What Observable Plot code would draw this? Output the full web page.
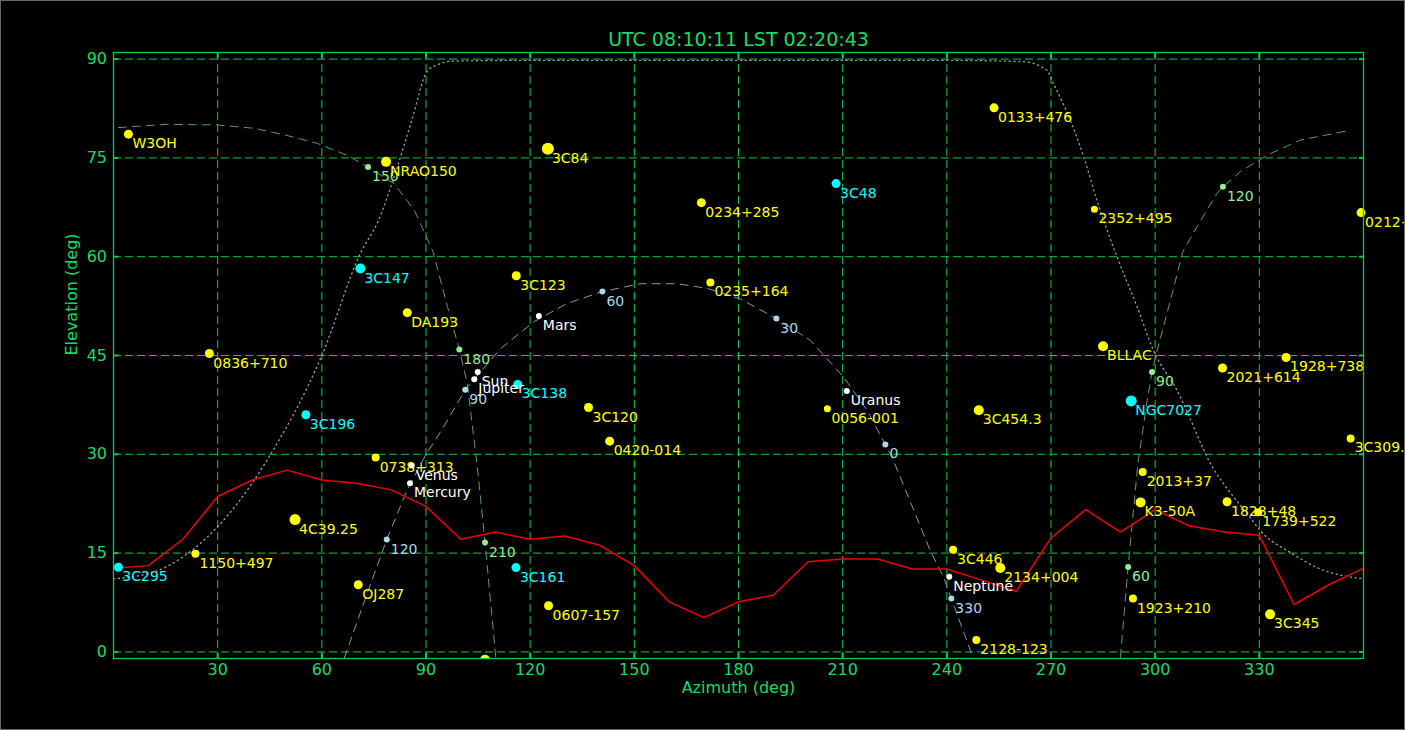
<!DOCTYPE html>
<html><head><meta charset="utf-8">
<script src="https://cdn.jsdelivr.net/npm/d3@7"></script>
<script src="https://cdn.jsdelivr.net/npm/@observablehq/plot@0.6"></script>
<style>html,body{margin:0;padding:0;background:#000;overflow:hidden}
#chart svg{display:block;outline:1px solid #666;outline-offset:-1px}</style>
</head><body><div id="chart"></div>
<script>
const titleText = "UTC 08:10:11 LST 02:20:43";
const xLabel = "Azimuth (deg)";
const yLabel = "Elevation (deg)";
const xTicks = [30, 60, 90, 120, 150, 180, 210, 240, 270, 300, 330];
const yTicks = [0, 15, 30, 45, 60, 75, 90];

// sources (yellow)
const srcNames = ["W3OH","NRAO150","3C84","0234+285","0133+476","2352+495","0212+735","0836+710","DA193","3C123","0235+164","3C120","0420-014","0056-001","3C454.3","BLLAC","2021+614","1928+738","3C309.1","0738+313","4C39.25","1150+497","OJ287","2013+37","K3-50A","1828+48","1739+522","3C446","2134+004","1923+210","3C345","2128-123","0607-157"];
const srcAz = [4.3,78.5,125.1,169.3,253.6,282.5,359.3,27.6,84.6,116.0,171.9,136.8,142.9,205.6,249.2,285.0,319.4,337.7,356.3,75.5,52.3,23.6,70.5,296.4,295.8,320.7,329.7,241.8,255.4,293.6,333.1,248.5,125.3];
const srcEl = [78.6,74.4,76.4,68.2,82.6,67.2,66.7,45.3,51.5,57.1,56.1,37.1,32.0,36.9,36.7,46.4,43.1,44.7,32.4,29.5,20.1,14.9,10.2,27.3,22.7,22.8,21.2,15.5,12.75,8.1,5.7,1.8,7.0];
const srcFlux = [3,4,6,3,3,1,3,3,3,3,2,3,3,1,4,4,3,3,2,2,5,2,3,2,4,3,2,2,4,2,4,2,3];

// calibrators (cyan)
const calNames = ["3C147","3C196","3C48","3C138","NGC7027","3C161","3C295"];
const calAz = [71.1,55.4,208.1,116.4,293.1,115.9,1.4];
const calEl = [58.2,36.0,71.1,40.6,38.1,12.8,12.85];
const calFlux = [4,3,3,3,5,3,3];

// source below horizon (no label)
const lowAz = [107.0];
const lowEl = [-1.2];
const lowFlux = [4];

// planets
const planetNames = ["Mercury","Venus","Sun","Jupiter","Mars","Uranus","Neptune"];
const planetAz = [85.4,85.9,104.9,103.9,122.5,211.2,240.7];
const planetEl = [25.6,28.3,42.5,41.4,51.0,39.6,11.4];

// horizon mask
const horizonAz = [0,10,20,30,40,50,60,70,80,90,100,110,120,130,140,150,160,170,180,190,200,210,220,230,240,250,260,270,280,290,300,310,320,330,340,350,360];
const horizonEl = [12.7,13.1,17.1,23.6,26.1,27.6,26.1,25.6,24.6,22.1,17.1,18.2,17.1,17.6,16.2,13.1,7.6,5.2,7.6,8.6,13.7,14.1,14.1,12.6,12.6,10.9,9.2,17.3,21.6,18.2,21.6,19.1,18.2,17.7,7.2,10.2,12.7];

// dotted zenith circle
const zenithAz = [0,12.5,23.0,29.8,42.3,44.2,60.0,71.1,76.3,81.1,85.9,90.3,93.1,98.0,120,180,240,262.1,268.8,270.7,275.5,279.4,283.2,289.0,294.8,299.5,306.3,316.8,321.6,327.4,330.3,338.9,347.5,360];
const zenithEl = [11.1,12.3,15.6,18.9,27.5,29.1,45.0,60.5,65.5,72.6,80.7,88.1,89.1,89.7,89.8,89.8,89.8,89.6,88.3,86.3,80.8,75.2,68.6,60.0,52.4,45.8,39.7,27.8,24.2,20.4,18.4,15.1,12.6,11.1];

// galactic plane
const galWestAz = [1.4,15.4,29.8,40.4,50.0,58.7,67.3,73.3,80.8,86.6,92.0,96.2,99.6,101.9,104.8,107.0,110.1];
const galWestEl = [79.6,80.1,80.0,79.5,78.4,77.2,75.4,73.6,71.1,67.1,60.8,52.4,45.9,40.7,28.0,16.6,-0.8];
const galEastAz = [290.0,292.2,295.0,297.7,299.1,300.6,304.4,308.0,312.0,317.8,319.5,324.5,332.2,341.8,356.2];
const galEastEl = [-0.8,12.9,28.5,38.2,42.5,45.8,53.4,60.8,64.5,69.6,70.6,72.9,75.4,77.7,79.2];
const galMarkLon = [60,90,120,150,180,210];
const galMarkAz = [292.2,299.1,319.5,73.3,99.6,107.0];
const galMarkEl = [12.9,42.5,70.6,73.6,45.9,16.6];

// ecliptic
const eclAz = [66.5,73.0,78.7,84.5,89.8,95.0,101.3,111.4,121.0,130.6,140.8,151.7,162.3,170.9,180.5,190.9,200.7,210.3,217.0,222.3,224.6,235.2,239.1,241.3,246.8,247.3];
const eclEl = [-0.9,8.8,17.05,24.5,29.8,34.1,39.8,46.0,50.1,52.9,54.7,55.9,55.9,55.2,53.6,50.6,47.3,41.7,36.7,31.5,29.1,15.4,11.3,8.1,0.2,-0.9];
const eclMarkLon = [120,90,60,30,0,330];
const eclMarkAz = [78.7,101.3,140.8,190.9,222.3,241.3];
const eclMarkEl = [17.05,39.8,54.7,50.6,31.5,8.1];

const pts = (az, el, extra = {}) => az.map((a, i) => {
  const o = {az: a, el: el[i]};
  for (const k in extra) o[k] = extra[k][i];
  return o;
});
const sources = pts(srcAz, srcEl, {name: srcNames, flux: srcFlux});
const cals = pts(calAz, calEl, {name: calNames, flux: calFlux});
const low = pts(lowAz, lowEl, {flux: lowFlux});
const planets = pts(planetAz, planetEl, {name: planetNames});
const horizon = pts(horizonAz, horizonEl);
const zenith = pts(zenithAz, zenithEl);
const galWest = pts(galWestAz, galWestEl);
const galEast = pts(galEastAz, galEastEl);
const galMarks = pts(galMarkAz, galMarkEl, {lon: galMarkLon});
const ecl = pts(eclAz, eclEl);
const eclMarks = pts(eclMarkAz, eclMarkEl, {lon: eclMarkLon});

const gridColor = "#00cc44";
const frameColor = "#00cc55";
const textGreen = "#11dd66";
const lbl = {x: "az", y: "el", dx: 4, dy: 14, lineAnchor: "bottom", textAnchor: "start", fontSize: 14};

const chart = Plot.plot({
  width: 1405, height: 730,
  marginLeft: 113, marginRight: 42, marginTop: 52, marginBottom: 72,
  style: {background: "#000", color: textGreen, fontFamily: "DejaVu Sans, sans-serif", fontSize: "16px"},
  x: {domain: [0, 360], label: null},
  y: {domain: [-1, 91], label: null},
  r: {type: "linear", domain: [0, 6], range: [3, 6]},
  marks: [
    Plot.gridX({ticks: xTicks, stroke: gridColor, strokeOpacity: 1, strokeDasharray: "8,4"}),
    Plot.gridY({ticks: yTicks, stroke: gridColor, strokeOpacity: 1, strokeDasharray: "8,4"}),
    Plot.line(zenith, {x: "az", y: "el", curve: "monotone-x", stroke: "#a0a0a0", strokeWidth: 1.3, strokeDasharray: "1.2,3.6", clip: "frame"}),
    Plot.line(galWest, {x: "az", y: "el", stroke: "#5a9f5a", strokeWidth: 1, strokeDasharray: "8,6", clip: "frame"}),
    Plot.line(galEast, {x: "az", y: "el", stroke: "#5a9f5a", strokeWidth: 1, strokeDasharray: "8,6", clip: "frame"}),
    Plot.line(ecl, {x: "az", y: "el", stroke: "#8596aa", strokeWidth: 1, strokeDasharray: "8,6", clip: "frame"}),
    Plot.line(horizon, {x: "az", y: "el", stroke: "#ee0000", strokeWidth: 1.5, clip: "frame"}),
    Plot.dot(galMarks, {x: "az", y: "el", r: 3, fill: "#90ee90"}),
    Plot.text(galMarks, {...lbl, text: "lon", fill: "#90ee90"}),
    Plot.dot(eclMarks, {x: "az", y: "el", r: 3, fill: "#add8e6"}),
    Plot.text(eclMarks, {...lbl, text: "lon", fill: "#add8e6"}),
    Plot.dot(low, {x: "az", y: "el", r: "flux", fill: "#ffff00", clip: "frame"}),
    Plot.text(sources, {...lbl, text: "name", fill: "#ffff00"}),
    Plot.dot(sources, {x: "az", y: "el", r: "flux", fill: "#ffff00"}),
    Plot.text(cals, {...lbl, text: "name", fill: "#00ffff"}),
    Plot.dot(cals, {x: "az", y: "el", r: "flux", fill: "#00ffff"}),
    Plot.dot(planets, {x: "az", y: "el", r: 3, fill: "#ffffff"}),
    Plot.text(planets, {...lbl, text: "name", fill: "#ffffff"}),
    Plot.frame({stroke: frameColor, strokeWidth: 1.3}),
    Plot.axisX({ticks: xTicks, anchor: "bottom", tickSize: -5, tickPadding: 10, strokeWidth: 2, stroke: frameColor, label: null}),
    Plot.axisX({ticks: xTicks, anchor: "top", tickSize: -5, tickFormat: () => "", strokeWidth: 2, stroke: frameColor, label: null}),
    Plot.axisY({ticks: yTicks, anchor: "left", tickSize: -5, tickPadding: 11.5, strokeWidth: 2, stroke: frameColor, label: null}),
    Plot.axisY({ticks: yTicks, anchor: "right", tickSize: -5, tickFormat: () => "", strokeWidth: 2, stroke: frameColor, label: null}),
    Plot.text([titleText], {text: d => d, frameAnchor: "top", dy: -7, lineAnchor: "bottom", fontSize: 19, fill: textGreen}),
    Plot.text([xLabel], {text: d => d, frameAnchor: "bottom", dy: 34.5, lineAnchor: "bottom", fontSize: 16, fill: textGreen}),
    Plot.text([yLabel], {text: d => d, frameAnchor: "left", dx: -37, rotate: -90, lineAnchor: "bottom", fontSize: 16, fill: textGreen})
  ]
});
document.getElementById("chart").appendChild(chart);
</script>
</body></html>
